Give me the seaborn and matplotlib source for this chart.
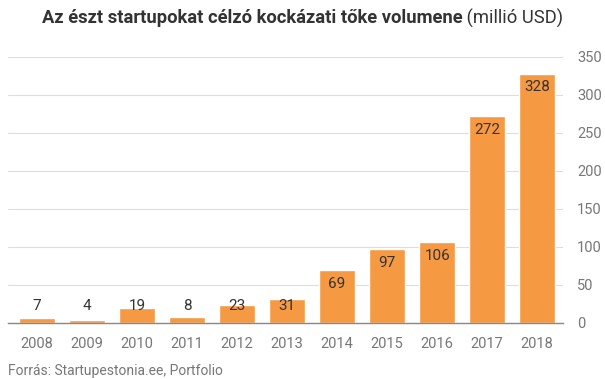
import matplotlib
matplotlib.use("Agg")
import matplotlib.pyplot as plt
import seaborn as sns
import pandas as pd

# Adatok
years = ["2008", "2009", "2010", "2011", "2012", "2013", "2014", "2015", "2016", "2017", "2018"]
values = [7, 4, 19, 8, 23, 31, 69, 97, 106, 272, 328]
y_ticks = [0, 50, 100, 150, 200, 250, 300, 350]

df = pd.DataFrame({"ev": years, "ertek": values})

sns.set_style("white")
plt.rcParams["font.family"] = ["Roboto", "DejaVu Sans"]

fig = plt.figure(figsize=(6.05, 3.79), dpi=100)
ax = fig.add_axes([0.013, 0.148, 0.918, 0.702])

sns.barplot(data=df, x="ev", y="ertek", color="#F59A42", saturation=1,
            width=0.72, ax=ax)

# Címkék az oszlopokon
for i, v in enumerate(values):
    ax.text(i, max(v - 18, 22), str(v), ha="center", va="center",
            fontsize=11, color="#333333")

ax.set_ylim(0, 350)
ax.set_yticks(y_ticks)
ax.yaxis.tick_right()
ax.tick_params(axis="y", length=0, pad=10, labelsize=10.5, labelcolor="#777777")
ax.tick_params(axis="x", length=0, pad=10, labelsize=10.5, labelcolor="#777777")
ax.grid(axis="y", color="#dddddd", linewidth=0.8)
ax.set_axisbelow(True)
ax.set_xlabel("")
ax.set_ylabel("")
ax.set_xlim(-0.58, 10.52)

for side in ["top", "left", "right"]:
    ax.spines[side].set_visible(False)
ax.spines["bottom"].set_color("#888888")
ax.spines["bottom"].set_linewidth(1)

# Cím: félkövér rész + normál rész, együtt középre igazítva
t1 = fig.text(0.5, 0.952, "Az észt startupokat célzó kockázati tőke volumene",
              ha="right", va="center", fontsize=13.2, fontweight="bold", color="#333333")
t2 = fig.text(0.5, 0.952, " (millió USD)", ha="left", va="center",
              fontsize=13.2, color="#333333")
fig.canvas.draw()
w1 = t1.get_window_extent().width
w2 = t2.get_window_extent().width
x0 = 0.5 * fig.bbox.width - (w1 + w2) / 2
t1.set_position(((x0 + w1) / fig.bbox.width, 0.952))
t2.set_position(((x0 + w1) / fig.bbox.width, 0.952))

fig.text(0.013, 0.022, "Forrás: Startupestonia.ee, Portfolio", ha="left", va="center",
         fontsize=10, color="#777777")

plt.savefig("out.png", dpi=100)
